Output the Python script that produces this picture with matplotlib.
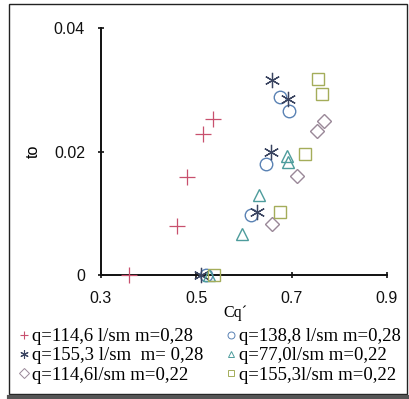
import matplotlib
matplotlib.use("Agg")
import matplotlib.pyplot as plt
from matplotlib.lines import Line2D
from matplotlib.patches import Rectangle

# Data (x = Cq', y = to)
s1_x = [0.358, 0.459, 0.480, 0.515, 0.535]
s1_y = [0.0, 0.0080, 0.0158, 0.0229, 0.0253]
s2_x = [0.520, 0.614, 0.647, 0.676, 0.694]
s2_y = [0.0, 0.0097, 0.0180, 0.0288, 0.0266]
s3_x = [0.510, 0.628, 0.656, 0.659, 0.692]
s3_y = [0.0, 0.0102, 0.0199, 0.0315, 0.0285]
s4_x = [0.527, 0.596, 0.631, 0.690, 0.692]
s4_y = [0.0, 0.0067, 0.0129, 0.0193, 0.0183]
s5_x = [0.659, 0.711, 0.753, 0.767]
s5_y = [0.0083, 0.0161, 0.0234, 0.0250]
s6_x = [0.537, 0.676, 0.729, 0.755, 0.763]
s6_y = [0.0, 0.0102, 0.0196, 0.0317, 0.0293]

labels = ["q=114,6 l/sm m=0,28", "q=138,8 l/sm m=0,28", "q=155,3 l/sm  m= 0,28",
          "q=77,0l/sm m=0,22", "q=114,6l/sm m=0,22", "q=155,3l/sm m=0,22"]
xticks = [0.3, 0.5, 0.7, 0.9]
yticks = [0, 0.02, 0.04]
ytick_labels = ["0", "0.02", "0.04"]

colors = ['#c8506e', '#5a82b4', '#3a4460', '#4d9c9c', '#9a8898', '#a4ad5a']
markers = ['+', 'o', (6, 2, 0), '^', 'D', 's']
sizes = [11, 9, 11, 9, 7, 9]

fig = plt.figure(figsize=(4.09, 3.99), dpi=100)
ax = fig.add_axes([101/409, 1-275/399, 286/409, 247/399])

series = [(s1_x, s1_y), (s2_x, s2_y), (s3_x, s3_y), (s4_x, s4_y), (s5_x, s5_y), (s6_x, s6_y)]
for (xs, ys), c, m, ms in zip(series, colors, markers, sizes):
    if m in ['+', (6, 2, 0)]:
        ax.plot(xs, ys, ls='none', marker=m, ms=ms, mew=0.9, color=c, clip_on=False, zorder=3)
    else:
        ax.plot(xs, ys, ls='none', marker=m, ms=ms, mew=1.0, mfc='none', mec=c, clip_on=False, zorder=3)

ax.set_xlim(0.3, 0.9)
ax.set_ylim(0, 0.04)
ax.set_xticks(xticks)
ax.set_xticklabels([str(v) for v in xticks])
ax.set_yticks(yticks)
ax.set_yticklabels(ytick_labels)
for s in ['top', 'right']:
    ax.spines[s].set_visible(False)
for s in ['left', 'bottom']:
    ax.spines[s].set_linewidth(1.4)
    ax.spines[s].set_color('#111111')
ax.tick_params(direction='inout', length=5, width=1.2, labelsize=11.5,
               labelfontfamily='Liberation Sans', colors='#111111')
ax.tick_params(axis='x', pad=9)
ax.tick_params(axis='y', pad=9)
ax.set_xlabel("Cq´", fontsize=11.5, family='Liberation Serif', labelpad=0)
ax.xaxis.set_label_coords(0.47, -0.12)
ax.set_ylabel("to", fontsize=11.5, family='Liberation Sans', labelpad=2)
ax.yaxis.set_label_coords(-0.21, 0.5)

# legend
order = [0, 2, 4, 1, 3, 5]
handles = []
for i in order:
    m = markers[i]
    if m in ['+', (6, 2, 0)]:
        h = Line2D([], [], ls='none', marker=m, ms=6, mew=0.8, color=colors[i])
    else:
        h = Line2D([], [], ls='none', marker=m, ms=5, mew=0.7, mfc='none', mec=colors[i])
    handles.append(h)
fig.legend(handles, [labels[i] for i in order], ncol=2, loc='upper left',
           bbox_to_anchor=(19/409, 1-328/399), frameon=False,
           prop={'family': 'Liberation Serif', 'size': 13.5},
           handlelength=0.55, handletextpad=0.15, columnspacing=1.2,
           labelspacing=0.12, borderaxespad=0, borderpad=0)

# outer frame
fig.add_artist(Rectangle((9/409, 1-394/399), 398/409, 390/399, transform=fig.transFigure,
                         fill=False, edgecolor='#222222', lw=1.0))
fig.add_artist(Line2D([9/409, 409/409], [1-396.5/399, 1-396.5/399], transform=fig.transFigure,
                      color='#555555', lw=3))

fig.savefig("out.png", dpi=100)
